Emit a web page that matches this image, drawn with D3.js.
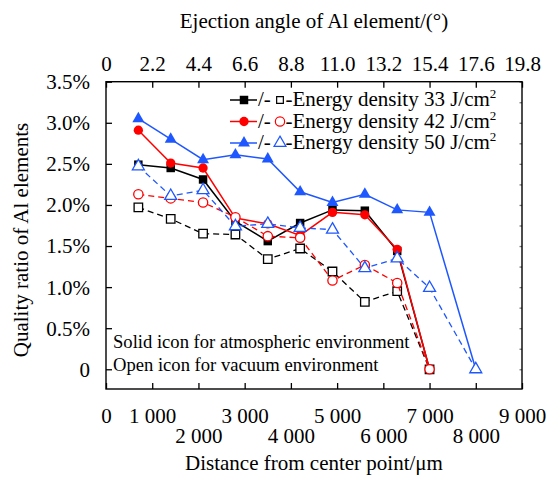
<!DOCTYPE html>
<html>
<head>
<meta charset="utf-8">
<script src="https://cdn.jsdelivr.net/npm/d3@7"></script>
<style>
  body { margin: 0; background: #fff; }
  text { font-family: "Liberation Serif", "Times New Roman", serif; fill: #000; }
</style>
</head>
<body>
<div id="main"></div>
<script>
// Data (distance in um, ratio in %)
const distA = [700, 1400, 2100, 2800, 3500, 4200, 4900, 5600, 6300, 7000];
const distB = [700, 1400, 2100, 2800, 3500, 4200, 4900, 5600, 6300, 7000, 8000];

const solid33 = [2.49, 2.45, 2.31, 1.80, 1.56, 1.78, 1.94, 1.93, 1.44, 0];
const open33 = [1.97, 1.83, 1.65, 1.64, 1.34, 1.47, 1.19, 0.82, 0.95, 0];
const solid42 = [2.91, 2.51, 2.45, 1.84, 1.77, 1.63, 1.91, 1.88, 1.46, 0];
const open42 = [2.13, 2.08, 2.03, 1.85, 1.62, 1.60, 1.08, 1.27, 1.05, 0];
const solid50 = [3.05, 2.80, 2.55, 2.61, 2.56, 2.16, 2.03, 2.13, 1.94, 1.91, 0];
const open50 = [2.47, 2.11, 2.18, 1.74, 1.77, 1.72, 1.70, 1.23, 1.35, 0.99, 0];

const energyLabels = ["Energy density 33 J/cm", "Energy density 42 J/cm", "Energy density 50 J/cm"];

const distanceTicks = [0, 1000, 2000, 3000, 4000, 5000, 6000, 7000, 8000, 9000];
const angleTicks = [0, 2.2, 4.4, 6.6, 8.8, 11.0, 13.2, 15.4, 17.6, 19.8];
const ratioTicks = [0, 0.5, 1.0, 1.5, 2.0, 2.5, 3.0, 3.5];
const ratioMinorTicks = d3.range(0, 3.51, 0.25);

const notes = ["Solid icon for atmospheric environment", "Open icon for vacuum environment"];

// Layout config
const width = 549;
const height = 477;
const plot = { left: 106, right: 522, top: 81.7, bottom: 389 };

const blue = "#1f57ff";
const series = [
  { label: energyLabels[0], color: "#000", symbol: d3.symbolSquare, size: 72, dist: distA, solid: solid33, open: open33 },
  { label: energyLabels[1], color: "#ff0000", symbol: d3.symbolCircle, size: 68, dist: distA, solid: solid42, open: open42 },
  { label: energyLabels[2], color: blue, symbol: d3.symbolTriangle, size: 62, dist: distB, solid: solid50, open: open50 },
];

const svg = d3.select("#main").append("svg").attr("width", width).attr("height", height);

// Scales
const x = d3.scaleLinear().domain([0, 9000]).range([plot.left, plot.right]);
const xTop = d3.scaleLinear().domain([0, 19.8]).range([plot.left, plot.right]);
const y = d3.scaleLinear().domain([-0.24, 3.5]).range([plot.bottom, plot.top]);

// Bottom axis, labels on two staggered rows
const xg = svg.append("g")
  .attr("transform", `translate(0,${plot.bottom})`)
  .call(d3.axisBottom(x).tickValues(distanceTicks).tickSizeInner(-6).tickSizeOuter(0)
    .tickFormat((d) => (d === 0 ? "0" : `${d / 1000} 000`)));
xg.selectAll(".tick text")
  .attr("dy", null)
  .attr("y", (d, i) => (i === 0 || i % 2 === 1 ? 34 : 54))
  .style("font-size", "21px");

// Top axis
const xtg = svg.append("g")
  .attr("transform", `translate(0,${plot.top})`)
  .call(d3.axisTop(xTop).tickValues(angleTicks).tickSizeInner(-6).tickSizeOuter(0)
    .tickFormat((d) => (d === 0 ? "0" : d.toFixed(1))));
xtg.selectAll(".tick text").attr("dy", null).attr("y", -10.5).style("font-size", "21px");

// Left axis
const yg = svg.append("g")
  .attr("transform", `translate(${plot.left},0)`)
  .call(d3.axisLeft(y).tickValues(ratioTicks).tickSizeInner(-6).tickSizeOuter(0)
    .tickFormat((d) => (d === 0 ? "0" : d.toFixed(1) + "%")));
yg.selectAll(".tick text").attr("x", -16).attr("dy", "0.33em").style("font-size", "21px");

// Right axis, tiny minor ticks only
const yrg = svg.append("g")
  .attr("transform", `translate(${plot.right},0)`)
  .call(d3.axisRight(y).tickValues(ratioMinorTicks).tickSizeInner(-2.5).tickSizeOuter(0).tickFormat(""));
yrg.selectAll(".tick line").attr("stroke", "#777");

svg.selectAll(".domain").remove();
svg.selectAll(".tick line").attr("stroke-width", 1.3);
svg.selectAll(".tick text").attr("font-family", null).attr("font-size", null);

// Frame
svg.append("rect")
  .attr("x", plot.left).attr("y", plot.top)
  .attr("width", plot.right - plot.left).attr("height", plot.bottom - plot.top)
  .attr("fill", "none").attr("stroke", "#000").attr("stroke-width", 1.4);

// Axis titles
svg.append("text")
  .attr("x", (plot.left + plot.right) / 2).attr("y", 28)
  .attr("text-anchor", "middle").style("font-size", "21px")
  .text("Ejection angle of Al element/(°)");

svg.append("text")
  .attr("x", (plot.left + plot.right) / 2).attr("y", 470)
  .attr("text-anchor", "middle").style("font-size", "21px")
  .text("Distance from center point/μm");

svg.append("text")
  .attr("transform", "translate(28,240) rotate(-90)")
  .attr("text-anchor", "middle").style("font-size", "21px")
  .text("Quality ratio of Al elements");

// Lines and markers
const line = d3.line().x((d) => x(d[0])).y((d) => y(d[1]));
const graphg = svg.append("g");

series.forEach((s) => {
  const solidPts = s.dist.map((d, i) => [d, s.solid[i]]);
  const openPts = s.dist.map((d, i) => [d, s.open[i]]);

  graphg.append("path")
    .attr("d", line(openPts))
    .attr("fill", "none").attr("stroke", s.color)
    .attr("stroke-width", 1.3).attr("stroke-dasharray", "6,4");
  graphg.append("path")
    .attr("d", line(solidPts))
    .attr("fill", "none").attr("stroke", s.color).attr("stroke-width", 1.5);

  graphg.append("g").selectAll("path")
    .data(solidPts).join("path")
    .attr("transform", (d) => `translate(${x(d[0])},${y(d[1])})`)
    .attr("d", d3.symbol(s.symbol, s.size))
    .attr("fill", s.color);
  graphg.append("g").selectAll("path")
    .data(openPts).join("path")
    .attr("transform", (d) => `translate(${x(d[0])},${y(d[1])})`)
    .attr("d", d3.symbol(s.symbol, s.size))
    .attr("fill", "#fff").attr("stroke", s.color).attr("stroke-width", 1.3);
});

// Legend
const legend = svg.append("g");
series.forEach((s, i) => {
  const ly = 100 + i * 21.5;
  const row = legend.append("g").attr("transform", `translate(0,${ly})`);
  row.append("line").attr("x1", 230).attr("x2", 257).attr("y1", 0).attr("y2", 0)
    .attr("stroke", s.color).attr("stroke-width", 1.5);
  row.append("path").attr("transform", "translate(244,0)")
    .attr("d", d3.symbol(s.symbol, s.size)).attr("fill", s.color);
  row.append("text").attr("x", 258).attr("y", 6).style("font-size", "21px").text("/-");
  row.append("path").attr("transform", "translate(280,0)")
    .attr("d", d3.symbol(s.symbol, s.symbol === d3.symbolSquare ? 45 : s.size))
    .attr("fill", "#fff").attr("stroke", s.color).attr("stroke-width", 1.2);
  const t = row.append("text").attr("x", 285.5).attr("y", 6).style("font-size", "21px");
  t.append("tspan").text("-" + s.label);
  t.append("tspan").attr("dy", -8).style("font-size", "13px").text("2");
});

// Notes
notes.forEach((n, i) => {
  svg.append("text")
    .attr("x", 113).attr("y", 347.5 + i * 23)
    .style("font-size", "18.6px")
    .text(n);
});
</script>
</body>
</html>
